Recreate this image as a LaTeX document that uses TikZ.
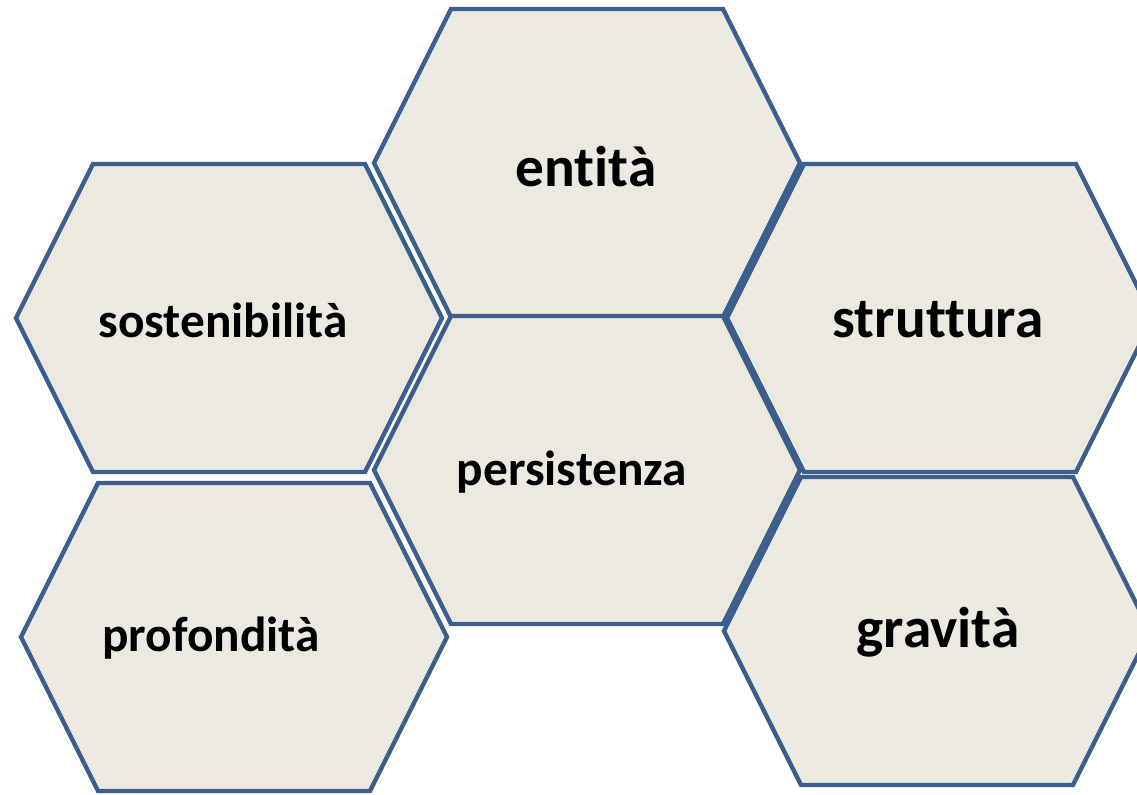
\documentclass[tikz,border=0pt]{standalone}
\usepackage{fontspec}
\setmainfont{Carlito}[Ligatures={NoCommon}]
\usepackage{tikz}
\usetikzlibrary{positioning, calc}
\usepackage{xcolor}
\definecolor{cellfill}{HTML}{ECEAE0}
\definecolor{celledge}{HTML}{3B5E8C}
\tikzset{
  cell/.style={draw=celledge, fill=cellfill, line width=3.3pt, line join=miter},
  biglabel/.style={font=\fontsize{43}{50}\selectfont\bfseries, inner sep=0pt},
  smalllabel/.style={font=\fontsize{37}{44}\selectfont\bfseries, inner sep=0pt},
}
% hexagon outline: centre (#1,#2), named coordinate #3
\newcommand{\honeycell}[3]{%
  \coordinate (#3) at (#1,#2);
  \draw[cell] ($(#3)+(-213,0)$) -- ($(#3)+(-136,-154)$) -- ($(#3)+(136,-154)$)
    -- ($(#3)+(213,0)$) -- ($(#3)+(136,154)$) -- ($(#3)+(-136,154)$) -- cycle;}

\begin{document}
\begin{tikzpicture}[x=0.75pt, y=-0.75pt]

\useasboundingbox (0,0) rectangle (1137,794);

%% ====================  CELLS  ====================

\honeycell{587}{163}{c_ent}
\honeycell{229}{318}{c_sost}
\honeycell{940}{318}{c_strut}
\honeycell{587}{470}{c_pers}
\honeycell{234}{637}{c_prof}
\honeycell{937}{631}{c_grav}

%% ====================  LABELS  ====================

\node[biglabel]   (l_ent)   at (586,167) {entità};
\node[smalllabel] (l_sost)  at (223,320) {sostenibilità};
\node[biglabel]   (l_strut) at (938,320) {struttura};
\node[smalllabel] (l_pers)  at (572,472) {persistenza};
\node[smalllabel] (l_prof)  at (211,638) {profondità};
\node[biglabel]   (l_grav)  at (938,632) {gravità};

\end{tikzpicture}
\end{document}
